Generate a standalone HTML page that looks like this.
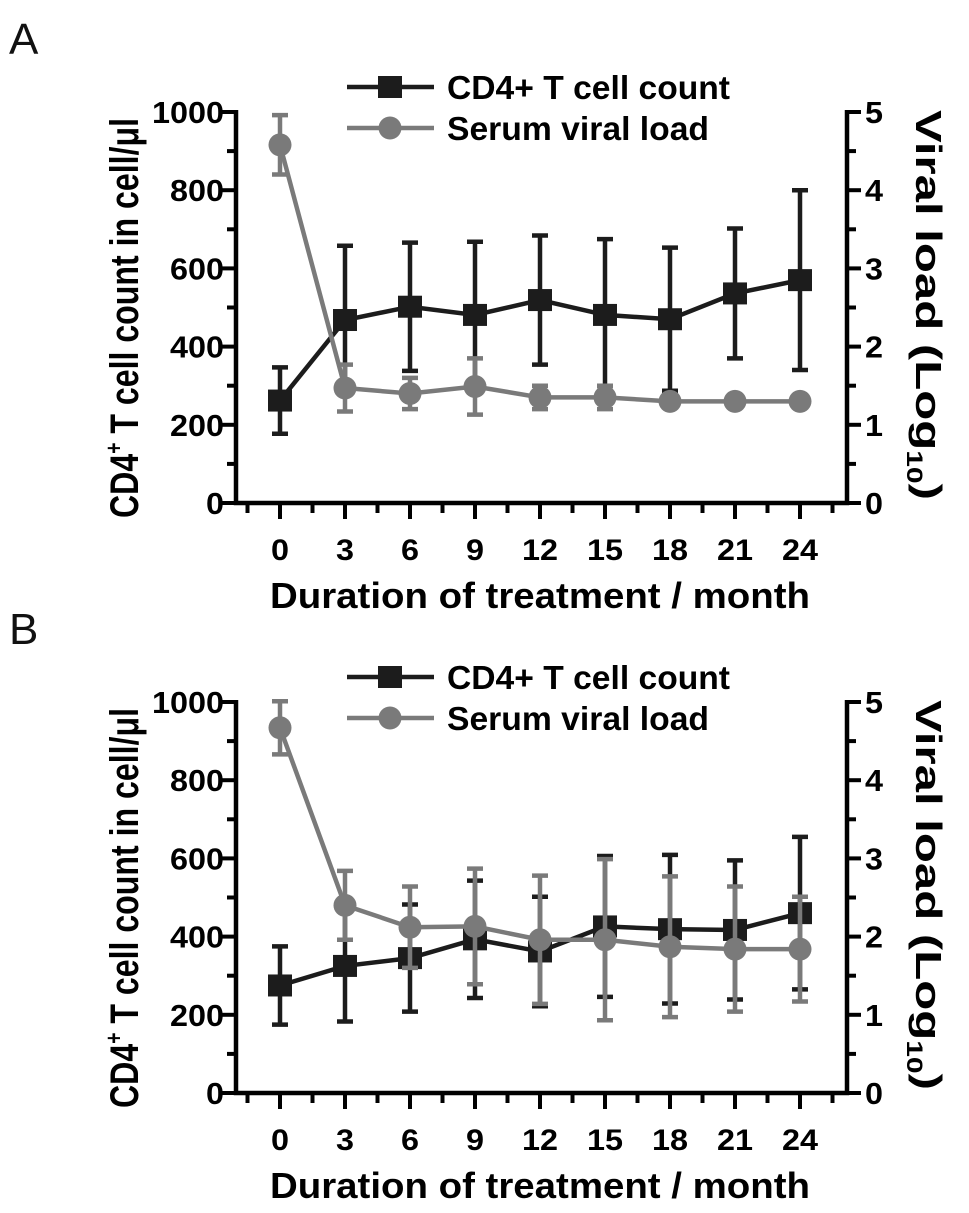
<!DOCTYPE html>
<html><head><meta charset="utf-8"><style>
body{margin:0;background:#fff;}
svg{display:block;font-family:"Liberation Sans",Arial,sans-serif;}
</style></head><body>
<svg id="fig" width="969" height="1213" viewBox="0 0 969 1213"></svg>
<script>
const months = [0,3,6,9,12,15,18,21,24];
const yTicks = [0,200,400,600,800,1000];
const rTicks = [0,1,2,3,4,5];
const cd4A = [262,468,502,481,519,481,470,536,570];
const cd4AErr = [85,190,164,187,165,194,183,166,230];
const vlA = [4.58,1.47,1.40,1.49,1.35,1.35,1.30,1.30,1.30];
const vlAErr = [0.38,0.30,0.2,0.36,0.15,0.15,0,0,0];
const cd4B = [275,325,345,393,362,426,419,417,460];
const cd4BErr = [100,142,137,150,140,180,190,178,195];
const vlB = [4.67,2.40,2.12,2.13,1.96,1.96,1.87,1.84,1.84];
const vlBErr = [0.34,0.44,0.52,0.74,0.82,1.03,0.9,0.8,0.67];

const NS='http://www.w3.org/2000/svg';
const svg=document.getElementById('fig');
function mk(tag,attrs,parent){const e=document.createElementNS(NS,tag);for(const k in attrs)e.setAttribute(k,attrs[k]);(parent||svg).appendChild(e);return e;}
const BLK='#1c1c1c', GRY='#7a7a7a';

function panel(letter, top, cd4, cd4Err, vl, vlErr){
  const g=mk('g',{});
  
  
  const y0=top+443, y1=top+52;
  const X=m=>280+(m/24)*520;
  const Y=v=>y0-(v/1000)*(y0-y1);
  const YR=v=>y0-(v/5)*(y0-y1);
  const L=236, R=847;
  const pl=mk('text',{x:9,y:top-6,'font-size':44,fill:'#111'},g);pl.textContent=letter;
  
  
  const ax=mk('path',{d:`M${L},${y1-2}V${y0}H${R}V${y1-2}`,stroke:'#000','stroke-width':4.5,fill:'none'},g);
  
  
  for(let v=0;v<=1000;v+=100){const maj=v%200===0;mk('line',{x1:L,x2:L-(maj?14:9),y1:Y(v),y2:Y(v),stroke:'#000','stroke-width':4},g);}
  yTicks.forEach(v=>{const t=mk('text',{x:L-12,y:Y(v)+11,'font-size':31,'font-weight':'bold','text-anchor':'end',fill:'#000',textLength:String(v).length*18,lengthAdjust:'spacingAndGlyphs'},g);t.textContent=v;
    
    });
  for(let v=0;v<=5;v+=0.5){const maj=Number.isInteger(v);mk('line',{x1:R,x2:R+(maj?14:9),y1:YR(v),y2:YR(v),stroke:'#000','stroke-width':4},g);}
  rTicks.forEach(v=>{const t=mk('text',{x:R+18,y:YR(v)+11,'font-size':31,'font-weight':'bold',fill:'#000',textLength:18,lengthAdjust:'spacingAndGlyphs'},g);t.textContent=v;
    
    });
  for(let m=-1.5;m<=25.5;m+=1.5){const maj=Number.isInteger(m/3)&&m>=0;mk('line',{x1:X(m),x2:X(m),y1:y0,y2:y0+(maj?16:10),stroke:'#000','stroke-width':4},g);}
  months.forEach(m=>{const t=mk('text',{x:X(m),y:y0+57,'font-size':30,'font-weight':'bold','text-anchor':'middle',fill:'#000',textLength:String(m).length*18,lengthAdjust:'spacingAndGlyphs'},g);t.textContent=m;
    
    });
  const xt=mk('text',{x:540,y:top+548,'font-size':36,'font-weight':'bold','text-anchor':'middle',fill:'#000',textLength:540,lengthAdjust:'spacingAndGlyphs'},g);
  xt.textContent='Duration of treatment / month';
  
  
  const lt=mk('text',{transform:`translate(138,${top+258}) rotate(-90)`,'font-size':40,'font-weight':'bold','text-anchor':'middle',fill:'#000',textLength:400,lengthAdjust:'spacingAndGlyphs'},g);
  lt.innerHTML='CD4<tspan font-size="24" dy="-16">+</tspan><tspan dy="16"> T cell count in cell/μl</tspan>';
  
  
  const rt=mk('text',{transform:`translate(916,${top+245}) rotate(90)`,'font-size':36,'font-weight':'bold','text-anchor':'middle',fill:'#000',textLength:390,lengthAdjust:'spacingAndGlyphs'},g);
  rt.innerHTML='Viral load (Log<tspan font-size="22" dy="9">10</tspan><tspan dy="-9">)</tspan>';
  
  
  const sA=mk('g',{},g);
  
  
  const sB=mk('g',{},g);
  
  
  months.forEach((m,i)=>{const x=X(m);
    const a=mk('path',{d:`M${x},${Y(cd4[i]-cd4Err[i])}V${Y(cd4[i]+cd4Err[i])}M${x-8},${Y(cd4[i]-cd4Err[i])}h16M${x-8},${Y(cd4[i]+cd4Err[i])}h16`,stroke:BLK,'stroke-width':4.5,fill:'none'},sA);
    
    
    if(vlErr[i]>0){const b=mk('path',{d:`M${x},${YR(vl[i]-vlErr[i])}V${YR(vl[i]+vlErr[i])}M${x-8},${YR(vl[i]-vlErr[i])}h16M${x-8},${YR(vl[i]+vlErr[i])}h16`,stroke:GRY,'stroke-width':4.5,fill:'none'},sB);
    
    }
  });
  const lnA=mk('polyline',{points:months.map((m,i)=>X(m)+','+Y(cd4[i])).join(' '),stroke:BLK,'stroke-width':4.5,fill:'none'},sA);
  
  
  const lnB=mk('polyline',{points:months.map((m,i)=>X(m)+','+YR(vl[i])).join(' '),stroke:GRY,'stroke-width':4.5,fill:'none'},sB);
  
  
  months.forEach((m,i)=>{
    const r=mk('rect',{x:X(m)-12,y:Y(cd4[i])-11,width:24,height:22,fill:BLK},sA);
    
    
    const c=mk('circle',{cx:X(m),cy:YR(vl[i]),r:11.5,fill:GRY},sB);
    
    
  });
  const lg=mk('g',{},g);
  
  
  mk('line',{x1:347,x2:434,y1:top+27,y2:top+27,stroke:BLK,'stroke-width':4.5},lg);
  mk('rect',{x:378,y:top+16,width:24,height:22,fill:BLK},lg);
  const t1=mk('text',{x:447,y:top+39,'font-size':33,'font-weight':'bold',fill:'#000',textLength:283,lengthAdjust:'spacingAndGlyphs'},lg);t1.textContent='CD4+ T cell count';
  
  
  mk('line',{x1:347,x2:434,y1:top+68,y2:top+68,stroke:GRY,'stroke-width':4.5},lg);
  mk('circle',{cx:390,cy:top+68,r:11.5,fill:GRY},lg);
  const t2=mk('text',{x:447,y:top+80,'font-size':33,'font-weight':'bold',fill:'#000',textLength:262,lengthAdjust:'spacingAndGlyphs'},lg);t2.textContent='Serum viral load';
  
  
}
panel('A',60,cd4A,cd4AErr,vlA,vlAErr);
panel('B',650,cd4B,cd4BErr,vlB,vlBErr);
</script>
</body></html>
